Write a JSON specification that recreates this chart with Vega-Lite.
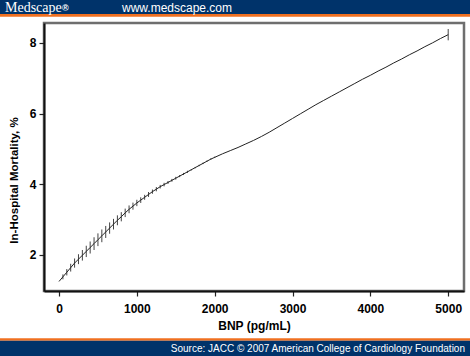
{
  "$schema": "https://vega.github.io/schema/vega-lite/v6.json",
  "width": 420,
  "height": 268,
  "autosize": {"type": "none"},
  "padding": {"left": 44, "top": 23, "right": 6, "bottom": 65},
  "background": "white",
  "config": {
    "view": {"stroke": "#6e6e6e", "strokeWidth": 2.5},
    "font": "Liberation Sans"
  },
  "datasets": {
    "curve": [
      {"bnp": 0, "mort": 1.25}, {"bnp": 50, "mort": 1.38}, {"bnp": 100, "mort": 1.51}, {"bnp": 150, "mort": 1.64},
      {"bnp": 200, "mort": 1.77}, {"bnp": 250, "mort": 1.88}, {"bnp": 300, "mort": 1.99}, {"bnp": 350, "mort": 2.1},
      {"bnp": 400, "mort": 2.21}, {"bnp": 450, "mort": 2.32}, {"bnp": 500, "mort": 2.43}, {"bnp": 550, "mort": 2.54},
      {"bnp": 600, "mort": 2.65}, {"bnp": 650, "mort": 2.76}, {"bnp": 700, "mort": 2.87}, {"bnp": 750, "mort": 2.98},
      {"bnp": 800, "mort": 3.08}, {"bnp": 850, "mort": 3.19}, {"bnp": 900, "mort": 3.29}, {"bnp": 950, "mort": 3.38},
      {"bnp": 1000, "mort": 3.47}, {"bnp": 1050, "mort": 3.55}, {"bnp": 1100, "mort": 3.63}, {"bnp": 1150, "mort": 3.71},
      {"bnp": 1200, "mort": 3.79}, {"bnp": 1250, "mort": 3.86}, {"bnp": 1300, "mort": 3.93}, {"bnp": 1350, "mort": 3.99},
      {"bnp": 1400, "mort": 4.05}, {"bnp": 1450, "mort": 4.11}, {"bnp": 1500, "mort": 4.17}, {"bnp": 1550, "mort": 4.23},
      {"bnp": 1600, "mort": 4.29}, {"bnp": 1650, "mort": 4.35}, {"bnp": 1700, "mort": 4.41}, {"bnp": 1750, "mort": 4.47},
      {"bnp": 1800, "mort": 4.53}, {"bnp": 1850, "mort": 4.59}, {"bnp": 1900, "mort": 4.65}, {"bnp": 1950, "mort": 4.71},
      {"bnp": 2000, "mort": 4.76}, {"bnp": 2100, "mort": 4.86}, {"bnp": 2200, "mort": 4.95}, {"bnp": 2300, "mort": 5.04},
      {"bnp": 2400, "mort": 5.14}, {"bnp": 2500, "mort": 5.24}, {"bnp": 2600, "mort": 5.35}, {"bnp": 2700, "mort": 5.47},
      {"bnp": 2800, "mort": 5.6}, {"bnp": 2900, "mort": 5.73}, {"bnp": 3000, "mort": 5.86}, {"bnp": 3100, "mort": 5.99},
      {"bnp": 3200, "mort": 6.12}, {"bnp": 3300, "mort": 6.25}, {"bnp": 3400, "mort": 6.37}, {"bnp": 3500, "mort": 6.49},
      {"bnp": 3600, "mort": 6.61}, {"bnp": 3700, "mort": 6.73}, {"bnp": 3800, "mort": 6.85}, {"bnp": 3900, "mort": 6.97},
      {"bnp": 4000, "mort": 7.08}, {"bnp": 4100, "mort": 7.2}, {"bnp": 4200, "mort": 7.31}, {"bnp": 4300, "mort": 7.43},
      {"bnp": 4400, "mort": 7.54}, {"bnp": 4500, "mort": 7.66}, {"bnp": 4600, "mort": 7.77}, {"bnp": 4700, "mort": 7.89},
      {"bnp": 4800, "mort": 8.0}, {"bnp": 4900, "mort": 8.12}, {"bnp": 5000, "mort": 8.23}
    ],
    "ci": [
      {"bnp": 50, "lo": 1.31, "hi": 1.45}, {"bnp": 100, "lo": 1.42, "hi": 1.6}, {"bnp": 150, "lo": 1.53, "hi": 1.75},
      {"bnp": 200, "lo": 1.64, "hi": 1.9}, {"bnp": 250, "lo": 1.74, "hi": 2.02}, {"bnp": 300, "lo": 1.84, "hi": 2.14},
      {"bnp": 350, "lo": 1.94, "hi": 2.26}, {"bnp": 400, "lo": 2.04, "hi": 2.38}, {"bnp": 450, "lo": 2.14, "hi": 2.5},
      {"bnp": 500, "lo": 2.25, "hi": 2.61}, {"bnp": 550, "lo": 2.36, "hi": 2.72}, {"bnp": 600, "lo": 2.48, "hi": 2.82},
      {"bnp": 650, "lo": 2.6, "hi": 2.92}, {"bnp": 700, "lo": 2.72, "hi": 3.02}, {"bnp": 750, "lo": 2.84, "hi": 3.12},
      {"bnp": 800, "lo": 2.95, "hi": 3.21}, {"bnp": 850, "lo": 3.07, "hi": 3.31}, {"bnp": 900, "lo": 3.18, "hi": 3.4},
      {"bnp": 950, "lo": 3.28, "hi": 3.48}, {"bnp": 1000, "lo": 3.38, "hi": 3.56}, {"bnp": 1050, "lo": 3.47, "hi": 3.63},
      {"bnp": 1100, "lo": 3.56, "hi": 3.7}, {"bnp": 1150, "lo": 3.64, "hi": 3.78}, {"bnp": 1200, "lo": 3.73, "hi": 3.85},
      {"bnp": 1250, "lo": 3.8, "hi": 3.92}, {"bnp": 1300, "lo": 3.88, "hi": 3.98}, {"bnp": 1350, "lo": 3.94, "hi": 4.04},
      {"bnp": 1400, "lo": 4.01, "hi": 4.09}, {"bnp": 1450, "lo": 4.07, "hi": 4.15}, {"bnp": 1500, "lo": 4.13, "hi": 4.21},
      {"bnp": 1550, "lo": 4.2, "hi": 4.26}, {"bnp": 1600, "lo": 4.26, "hi": 4.32}, {"bnp": 1650, "lo": 4.32, "hi": 4.38},
      {"bnp": 1700, "lo": 4.39, "hi": 4.43}, {"bnp": 1750, "lo": 4.45, "hi": 4.49}, {"bnp": 1800, "lo": 4.51, "hi": 4.55},
      {"bnp": 1850, "lo": 4.57, "hi": 4.61}, {"bnp": 1900, "lo": 4.63, "hi": 4.67}, {"bnp": 1950, "lo": 4.69, "hi": 4.73},
      {"bnp": 2000, "lo": 4.74, "hi": 4.78}, {"bnp": 5000, "lo": 8.07, "hi": 8.39}
    ]
  },
  "layer": [
    {
      "data": {"name": "ci"},
      "mark": {"type": "rule", "color": "#444444", "strokeWidth": 1},
      "encoding": {
        "x": {"field": "bnp", "type": "quantitative", "scale": {"domain": [-193, 5203], "nice": false, "zero": false},
          "axis": {"values": [0, 1000, 2000, 3000, 4000, 5000], "format": "d", "title": "BNP (pg/mL)", "grid": false,
            "domain": true, "domainColor": "#111111", "domainWidth": 2,
            "tickColor": "#222222", "tickSize": 5, "tickWidth": 1.2,
            "labelFont": "Liberation Sans", "labelFontSize": 12, "labelFontWeight": "bold", "labelColor": "#000000", "labelPadding": 7,
            "titleFont": "Liberation Sans", "titleFontSize": 12, "titleFontWeight": "bold", "titleColor": "#000000", "titlePadding": 6}},
        "y": {"field": "lo", "type": "quantitative", "scale": {"domain": [0.98, 8.56], "nice": false, "zero": false},
          "axis": {"values": [2, 4, 6, 8], "title": "In-Hospital Mortality, %", "grid": false,
            "domain": true, "domainColor": "#111111", "domainWidth": 2,
            "tickColor": "#222222", "tickSize": 5, "tickWidth": 1.2,
            "labelFont": "Liberation Sans", "labelFontSize": 12, "labelFontWeight": "bold", "labelColor": "#000000", "labelPadding": 3,
            "titleFont": "Liberation Sans", "titleFontSize": 11.5, "titleFontWeight": "bold", "titleColor": "#000000",
            "titleX": -30, "titleY": 157, "titleAngle": -90, "titleAlign": "center", "titleBaseline": "middle"}},
        "y2": {"field": "hi"}
      }
    },
    {
      "data": {"name": "curve"},
      "mark": {"type": "line", "color": "#222222", "strokeWidth": 1},
      "encoding": {
        "x": {"field": "bnp", "type": "quantitative"},
        "y": {"field": "mort", "type": "quantitative"}
      }
    },
    {
      "data": {"values": [{}]},
      "mark": {"type": "rect", "color": "#00336a", "clip": false},
      "encoding": {"x": {"value": -44}, "x2": {"value": 426}, "y": {"value": -23}, "y2": {"value": -9}}
    },
    {
      "data": {"values": [{}]},
      "mark": {"type": "rect", "color": "#f07020", "clip": false},
      "encoding": {"x": {"value": -44}, "x2": {"value": 426}, "y": {"value": -9}, "y2": {"value": -6.3}}
    },
    {
      "data": {"values": [{}]},
      "mark": {"type": "rect", "color": "#f07020", "clip": false},
      "encoding": {"x": {"value": -44}, "x2": {"value": 426}, "y": {"value": 315.3}, "y2": {"value": 317.8}}
    },
    {
      "data": {"values": [{}]},
      "mark": {"type": "rect", "color": "#00336a", "clip": false},
      "encoding": {"x": {"value": -44}, "x2": {"value": 426}, "y": {"value": 317.8}, "y2": {"value": 333}}
    },
    {
      "data": {"values": [{"t": "Medscape"}]},
      "mark": {"type": "text", "color": "white", "font": "Liberation Serif", "fontSize": 14, "align": "left", "baseline": "middle", "letterSpacing": -0.7},
      "encoding": {"x": {"value": -39}, "y": {"value": -15.5}, "text": {"field": "t"}}
    },
    {
      "data": {"values": [{"t": "®"}]},
      "mark": {"type": "text", "color": "white", "font": "Liberation Sans", "fontSize": 9, "fontWeight": "bold", "align": "left", "baseline": "middle"},
      "encoding": {"x": {"value": 18}, "y": {"value": -15}, "text": {"field": "t"}}
    },
    {
      "data": {"values": [{"t": "www.medscape.com"}]},
      "mark": {"type": "text", "color": "white", "font": "Liberation Sans", "fontSize": 12, "align": "left", "baseline": "middle"},
      "encoding": {"x": {"value": 78}, "y": {"value": -15.5}, "text": {"field": "t"}}
    },
    {
      "data": {"values": [{"t": "Source: JACC © 2007 American College of Cardiology Foundation"}]},
      "mark": {"type": "text", "color": "white", "font": "Liberation Sans", "fontSize": 10, "align": "right", "baseline": "middle"},
      "encoding": {"x": {"value": 421}, "y": {"value": 325.8}, "text": {"field": "t"}}
    }
  ]
}
